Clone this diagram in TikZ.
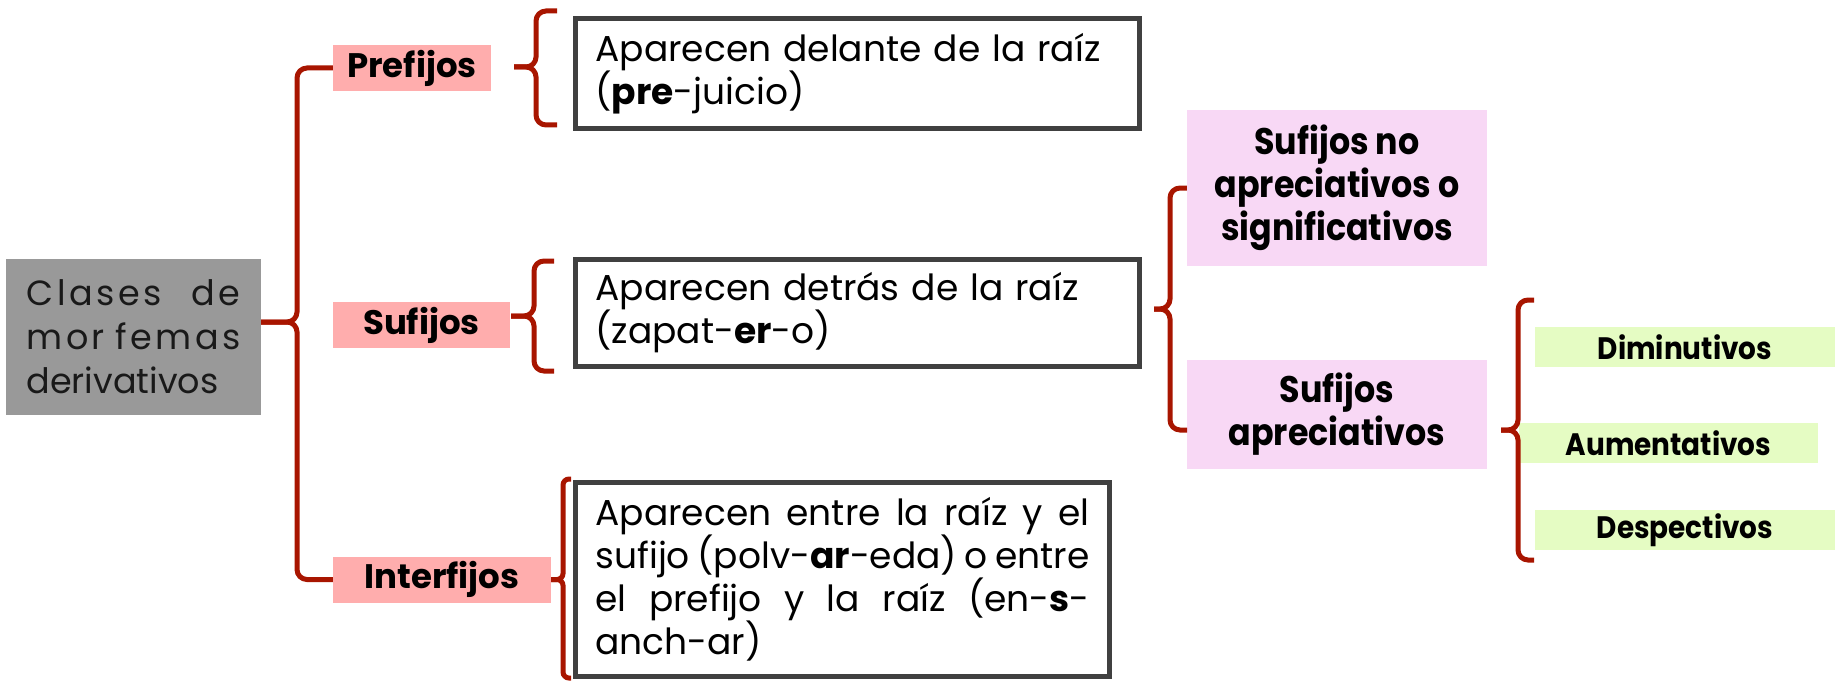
\documentclass[tikz,border=0pt]{standalone}
\usepackage{fontspec}
\setmainfont{Poppins}
\newfontfamily\estrecha[FakeStretch=0.9]{Poppins}
\usetikzlibrary{positioning}
\usetikzlibrary{calc}
\definecolor{grisfondo}{HTML}{999999}
\definecolor{grisborde}{HTML}{404040}
\definecolor{rosa}{HTML}{FFADAD}
\definecolor{lila}{HTML}{F8D8F5}
\definecolor{verde}{HTML}{E5FCC3}
\definecolor{rojollave}{HTML}{A81500}
\tikzset{
raiz/.style={
  fill=grisfondo,
  inner sep=0pt,
  minimum width=255pt,
  minimum height=156pt,
  text width=214pt,
  align=left,
  text=black!90,
  font=\fontsize{35}{44}\selectfont
  },
clase/.style={
  fill=rosa,
  inner sep=0pt,
  minimum height=46pt,
  font=\bfseries\fontsize{34}{40}\selectfont
  },
caja/.style={
  draw=grisborde,
  line width=5pt,
  inner xsep=20pt,
  inner ysep=0pt,
  align=left,
  font=\fontsize{36}{43}\selectfont
  },
tipo/.style={
  fill=lila,
  inner sep=0pt,
  minimum width=300pt,
  align=center,
  font=\estrecha\bfseries\fontsize{37}{43}\selectfont
  },
grado/.style={
  fill=verde,
  inner sep=0pt,
  minimum width=300pt,
  minimum height=40pt,
  font=\estrecha\bfseries\fontsize{31}{36}\selectfont
  },
llave/.style={
  draw=rojollave,
  line width=5pt,
  rounded corners=10pt
  }
}

\begin{document}
\begin{tikzpicture}[x=1pt,y=-1pt]
    \useasboundingbox (0,0) rectangle (1839,682);
    % nodos
    \node[raiz] at (133.5,337) (mor) {{\addfontfeatures{LetterSpace=10}\makebox[\linewidth]{Clases\hfill de}\\
        \makebox[\linewidth]{mor\hfill femas}}\\
        derivativos};
    \node[clase,minimum width=158pt] at (412,68) (pre) {Prefijos};
    \node[clase,minimum width=177pt] at (421.5,325) (suf) {Sufijos};
    \node[clase,minimum width=218pt] at (442,579.5) (inter) {Interfijos};
    \node[caja,text width=524pt,minimum height=110pt] at (857.5,73.5) (dpre)
        {Aparecen delante de la raíz\\(\textbf{pre}-juicio)};
    \node[caja,text width=524pt,minimum height=107pt] at (857.5,313) (dsuf)
        {Aparecen detrás de la raíz\\(zapat-\textbf{er}-o)};
    \node[caja,text width=494pt,minimum height=194pt,align=justify] at (842.5,579.5) (dinter)
        {Aparecen entre la raíz y el\linebreak sufijo (polv-\textbf{ar}-eda) o entre\linebreak
        el prefijo y la raíz (en-\textbf{s}-\linebreak anch-ar)};
    \node[tipo,minimum height=156pt] at (1337,188) (noap) {Sufijos no\\apreciativos o\\significativos};
    \node[tipo,minimum height=109pt] at (1337,414.5) (ap) {Sufijos\\apreciativos};
    \node[grado] at (1685,347) (dim) {Diminutivos};
    \node[grado,minimum width=299pt] at (1668.5,443) (aum) {Aumentativos};
    \node[grado] at (1685,530) (desp) {Despectivos};
    % extremos libres de las llaves
    \coordinate (p1) at (557,11);
    \coordinate (p2) at (557,125);
    \coordinate (s1) at (554,261);
    \coordinate (s2) at (554,371);
    \coordinate (i1) at (571,479);
    \coordinate (i2) at (571,678);
    \coordinate (a2) at (1187,430);
    \coordinate (g1) at (1534,300);
    \coordinate (g2) at (1534,560);
    % llaves
    \draw[llave] (pre.west) -| (297,322) -- (mor.east |- 0,322);
    \draw[llave] (inter.west) -| (297,322) -- (mor.east |- 0,322);
    \draw[llave] (p1) -| (536,67) -- ([xshift=23pt]pre.east |- 0,67);
    \draw[llave] (p2) -| (536,67) -- ([xshift=23pt]pre.east |- 0,67);
    \draw[llave] (s1) -| (534,316) -- ([xshift=1pt]suf.east |- 0,316);
    \draw[llave] (s2) -| (534,316) -- ([xshift=1pt]suf.east |- 0,316);
    \draw[llave,rounded corners=6pt] (i1) -| (563,579.5) -- (inter.east);
    \draw[llave,rounded corners=6pt] (i2) -| (563,579.5) -- (inter.east);
    \draw[llave] (noap.west) -| (1170,309) -- ([xshift=12pt]dsuf.east |- 0,309);
    \draw[llave] (a2) -| (1170,309) -- ([xshift=12pt]dsuf.east |- 0,309);
    \draw[llave] (g1) -| (1518,430) -- ([xshift=14pt]ap.east |- 0,430);
    \draw[llave] (g2) -| (1518,430) -- ([xshift=14pt]ap.east |- 0,430);
\end{tikzpicture}
\end{document}
